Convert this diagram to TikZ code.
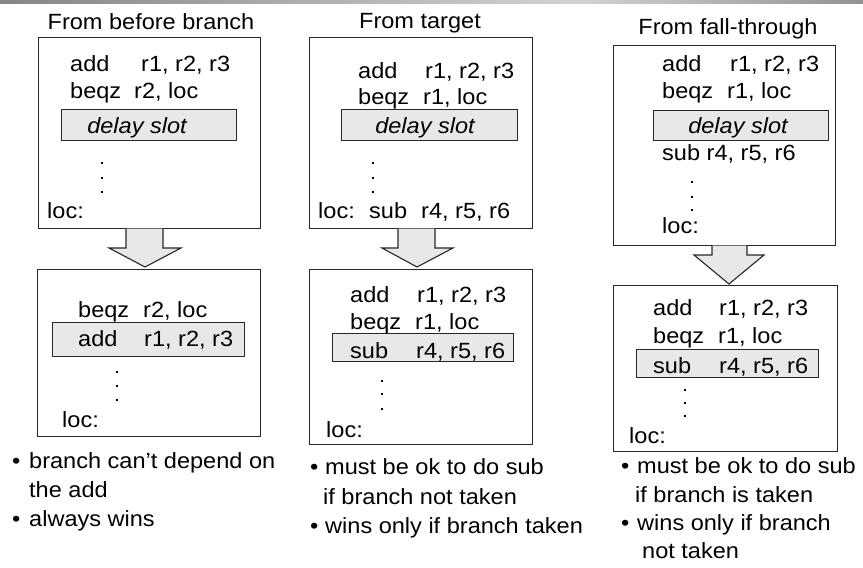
\documentclass[tikz,border=0pt]{standalone}
\usepackage{fontspec}
\setmainfont[FakeStretch=1.07]{Liberation Sans}
\newcommand{\op}[2]{\makebox[#1pt][l]{#2}}
\begin{document}
\begin{tikzpicture}[x=1pt,y=-1pt,
  txt/.style={inner sep=0pt,anchor=base west,font=\fontsize{22}{26}\selectfont},
  ttl/.style={inner sep=0pt,anchor=base,font=\fontsize{22}{26}\selectfont},
  itl/.style={inner sep=0pt,anchor=base,font=\fontsize{22}{26}\selectfont\itshape},
  codebox/.style={draw=black!85,line width=1.2pt,fill=white,anchor=north west,inner sep=0pt},
  slot/.style={draw=black!85,line width=1.2pt,fill=gray!18,anchor=north west,inner sep=0pt},
  barrow/.style={draw=black!85,line width=1.1pt,fill=gray!18,line join=miter},
  dotn/.style={rectangle,fill=black,inner sep=0pt,minimum size=2.8pt}]
\useasboundingbox (0,0) rectangle (863,568);
% top bar
\shade[left color=gray!95,right color=gray!35] (0,0) rectangle (578,3);
\shade[left color=gray!35,right color=gray!85] (578,0) rectangle (863,3);

% ---------- Panel 1 ----------
\node[ttl] (t1) at (151,29) {From before branch};
\node[codebox,minimum width=222pt,minimum height=191pt] (b1a) at (38,37) {};
\node[slot,minimum width=175pt,minimum height=31pt] (s1a) at (61,109) {};
\node[txt] (l1a1) at (70,71) {\op{71}{add}r1, r2, r3};
\node[txt] (l1a2) at (70,98) {\op{64}{beqz}r2, loc};
\node[itl] (l1a3) at (137,133) {delay slot};
\node[dotn] (d1a1) at (102,163) {};
\node[dotn] (d1a2) at (102,178) {};
\node[dotn] (d1a3) at (102,192) {};
\node[txt] (l1a4) at (47,218) {loc:};
\draw[barrow] (126,228.6) -- (126,248) -- (109,248) -- (145,267) -- (181,248) -- (163,248) -- (163,228.6);
\node[codebox,minimum width=223pt,minimum height=167pt] (b1b) at (37,269) {};
\node[slot,minimum width=192pt,minimum height=34pt] (s1b) at (52,322) {};
\node[txt] (l1b1) at (78,317) {\op{65}{beqz}r2, loc};
\node[txt] (l1b2) at (78,346) {\op{66}{add}r1, r2, r3};
\node[dotn] (d1b1) at (117,372) {};
\node[dotn] (d1b2) at (117,386) {};
\node[dotn] (d1b3) at (117,400) {};
\node[txt] (l1b3) at (62,427) {loc:};
\node[txt] (bu11) at (12,468) {•};
\node[txt] (n11) at (29,468) {branch can’t depend on};
\node[txt] (n12) at (29,497) {the add};
\node[txt] (bu12) at (12,526) {•};
\node[txt] (n13) at (29,526) {always wins};

% ---------- Panel 2 ----------
\node[ttl] (t2) at (420,28) {From target};
\node[codebox,minimum width=223pt,minimum height=191pt] (b2a) at (309,37) {};
\node[slot,minimum width=176pt,minimum height=31pt] (s2a) at (341,109) {};
\node[txt] (l2a1) at (358,78) {\op{67}{add}r1, r2, r3};
\node[txt] (l2a2) at (358,104) {\op{65}{beqz}r1, loc};
\node[itl] (l2a3) at (425,133) {delay slot};
\node[dotn] (d2a1) at (373,163) {};
\node[dotn] (d2a2) at (373,178) {};
\node[dotn] (d2a3) at (373,192) {};
\node[txt] (l2a4) at (318,218) {\op{51}{loc:}\op{52}{sub}r4, r5, r6};
\draw[barrow] (398,228.6) -- (398,248) -- (382,248) -- (417,267) -- (453,248) -- (435,248) -- (435,228.6);
\node[codebox,minimum width=223pt,minimum height=175pt] (b2b) at (309,269) {};
\node[slot,minimum width=181pt,minimum height=28pt] (s2b) at (332,333) {};
\node[txt] (l2b1) at (350,302) {\op{67}{add}r1, r2, r3};
\node[txt] (l2b2) at (350,329) {\op{65}{beqz}r1, loc};
\node[txt] (l2b3) at (350,358) {\op{66}{sub}r4, r5, r6};
\node[dotn] (d2b1) at (382,381) {};
\node[dotn] (d2b2) at (382,394) {};
\node[dotn] (d2b3) at (382,409) {};
\node[txt] (l2b4) at (326,437) {loc:};
\node[txt] (bu21) at (310,474) {•};
\node[txt] (n21) at (325,474) {must be ok to do sub};
\node[txt] (n22) at (323,504) {if branch not taken};
\node[txt] (bu22) at (310,533) {•};
\node[txt] (n23) at (325,533) {wins only if branch taken};

% ---------- Panel 3 ----------
\node[ttl] (t3) at (728,34) {From fall-through};
\node[codebox,minimum width=222pt,minimum height=200pt] (b3a) at (613,45) {};
\node[slot,minimum width=175pt,minimum height=30pt] (s3a) at (653,110) {};
\node[txt] (l3a1) at (662,71) {\op{68}{add}r1, r2, r3};
\node[txt] (l3a2) at (662,98) {\op{65}{beqz}r1, loc};
\node[itl] (l3a3) at (738,133) {delay slot};
\node[txt] (l3a4) at (662,160) {sub r4, r5, r6};
\node[dotn] (d3a1) at (692,182) {};
\node[dotn] (d3a2) at (692,197) {};
\node[dotn] (d3a3) at (692,210) {};
\node[txt] (l3a5) at (662,233) {loc:};
\draw[barrow] (712,245.6) -- (712,255) -- (694,255) -- (729,284) -- (764,255) -- (747,255) -- (747,245.6);
\node[codebox,minimum width=224pt,minimum height=166pt] (b3b) at (613,285) {};
\node[slot,minimum width=182pt,minimum height=28pt] (s3b) at (636,349) {};
\node[txt] (l3b1) at (653,315) {\op{66}{add}r1, r2, r3};
\node[txt] (l3b2) at (653,343) {\op{65}{beqz}r1, loc};
\node[txt] (l3b3) at (653,373) {\op{66}{sub}r4, r5, r6};
\node[dotn] (d3b1) at (685,390) {};
\node[dotn] (d3b2) at (685,403) {};
\node[dotn] (d3b3) at (685,416) {};
\node[txt] (l3b4) at (629,443) {loc:};
\node[txt] (bu31) at (621,473) {•};
\node[txt] (n31) at (637,473) {must be ok to do sub};
\node[txt] (n32) at (635,502) {if branch is taken};
\node[txt] (bu32) at (621,530) {•};
\node[txt] (n33) at (637,530) {wins only if branch};
\node[txt] (n34) at (642,558) {not taken};
\end{tikzpicture}
\end{document}
